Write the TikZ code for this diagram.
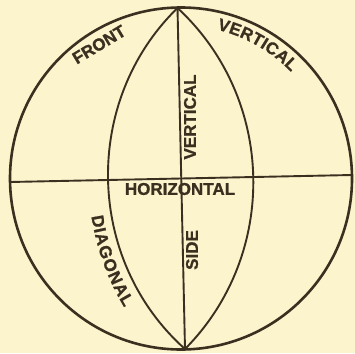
\documentclass[tikz,border=0pt]{standalone}
\usepackage{fontspec}
\setmainfont{Liberation Sans}[BoldFeatures={FakeBold=1}]
\definecolor{paper}{HTML}{FCF4CD}
\definecolor{ink}{HTML}{3B2F20}
\begin{document}
\begin{tikzpicture}[x=1pt,y=-1pt,
  lab/.style={font=\bfseries\fontsize{17}{17}\selectfont, text=ink, inner sep=0pt},
  rim/.style={draw=ink, line width=2.6pt},
  rule/.style={draw=ink, line width=1.9pt}]
\fill[paper] (0,0) rectangle (355,353);
\useasboundingbox (0,0) rectangle (355,353);
\coordinate (O) at (181,178.5);
\coordinate (T) at (177.5,8);
\coordinate (B) at (185,349);
\coordinate (W) at (10,182);
\coordinate (E) at (352,175);
\draw[rim] (O) circle [radius=171pt];
\draw[rule] (T) -- (B);
\draw[rule] (W) -- (E);
\draw[rule] (T) to[bend right=47] (B);
\draw[rule] (T) to[bend left=46] (B);
\node[lab, rotate=31] (front) at (99,44.5) {FRONT};
\node[lab, rotate=90] (vert) at (190,117) {VERTICAL};
\node[lab] (horiz) at (180,189) {HORIZONTAL};
\node[lab, rotate=90] (side) at (192,250) {SIDE};
\foreach \l/\a [count=\i] in {V/74.30,E/69.99,R/65.47,T/61.14,I/58.25,C/55.01,A/50.31,L/45.98}
  \node[lab, rotate=\a-90] (tv\i) at ({181+159*cos(\a)},{178.5-159*sin(\a)}) {\l};
\foreach \l/\a [count=\i] in {D/190.04,I/192.16,A/194.29,G/197.48,O/200.78,N/203.97,A/207.03,L/209.87}
  \node[lab, rotate=\a+90] (dg\i) at ({337.5+243*cos(\a)},{179-243*sin(\a)}) {\l};
\end{tikzpicture}
\end{document}
